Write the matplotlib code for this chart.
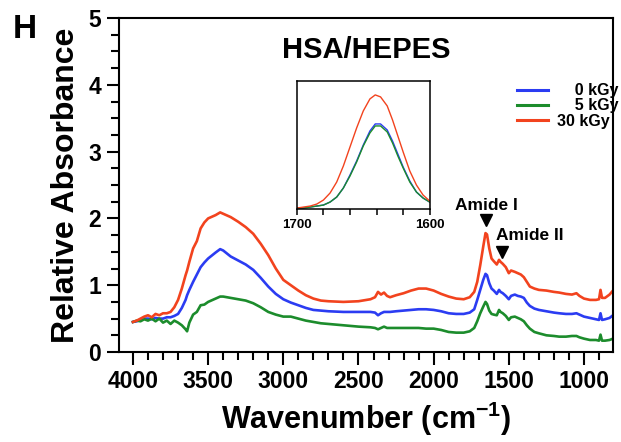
import matplotlib
matplotlib.use("Agg")
import matplotlib.pyplot as plt
from matplotlib.ticker import MultipleLocator, FixedLocator

plt.rcParams['font.family'] = ['Liberation Sans', 'DejaVu Sans']
plt.rcParams['mathtext.fontset'] = 'custom'
plt.rcParams['mathtext.rm'] = 'Liberation Sans:bold'
plt.rcParams['mathtext.default'] = 'rm'

# main spectra
wn = [4000, 3975, 3950, 3925, 3900, 3875, 3850, 3825, 3800, 3775, 3750, 3725, 3700, 3675, 3650, 3640, 3625, 3600,
      3575, 3550, 3525, 3500,
      3450, 3420, 3400, 3350, 3300, 3250, 3200, 3150, 3100, 3050, 3000,
      2950, 2900, 2850, 2800, 2750, 2700, 2600, 2500,
      2420, 2390, 2370, 2350, 2330, 2310, 2290,
      2250, 2200, 2150, 2100, 2050, 2000, 1950, 1900, 1850, 1800,
      1760, 1730, 1710, 1690, 1670, 1655, 1645, 1630, 1615, 1600,
      1580, 1565, 1555, 1540, 1520, 1500, 1485, 1460, 1440, 1420,
      1400, 1380, 1360, 1330, 1300, 1250, 1200, 1165, 1120, 1080,
      1050, 1030, 1000, 960, 920, 900, 890, 880, 860, 830, 807]

abs_0kgy = [0.45, 0.46, 0.48, 0.50, 0.50, 0.49, 0.51, 0.50, 0.50, 0.52, 0.52, 0.54, 0.57, 0.66, 0.78, 0.85, 0.93, 1.05,
            1.16, 1.27, 1.34, 1.40,
            1.49, 1.54, 1.52, 1.43, 1.37, 1.31, 1.23, 1.11, 0.98, 0.87, 0.79,
            0.74, 0.70, 0.66, 0.63, 0.62, 0.61, 0.60, 0.60,
            0.60, 0.59, 0.55, 0.58, 0.60, 0.60, 0.60,
            0.61, 0.62, 0.63, 0.64, 0.64, 0.63, 0.61, 0.58, 0.57, 0.57,
            0.59, 0.64, 0.78, 0.93, 1.08, 1.17, 1.15, 1.03, 0.95, 0.92,
            0.87, 0.93, 0.90, 0.88, 0.84, 0.79, 0.84, 0.86, 0.84, 0.83,
            0.81, 0.74, 0.69, 0.65, 0.63, 0.61, 0.59, 0.58, 0.57, 0.57,
            0.58, 0.56, 0.53, 0.51, 0.49, 0.48, 0.58, 0.48, 0.49, 0.51, 0.55]

abs_5kgy = [0.45, 0.47, 0.46, 0.49, 0.47, 0.50, 0.46, 0.50, 0.44, 0.47, 0.42, 0.47, 0.44, 0.40, 0.34, 0.31, 0.44, 0.56,
            0.60, 0.70, 0.71, 0.75,
            0.80, 0.83, 0.83, 0.81, 0.79, 0.77, 0.73, 0.67, 0.60, 0.56, 0.53,
            0.53, 0.50, 0.47, 0.45, 0.43, 0.42, 0.40, 0.38,
            0.37, 0.36, 0.34, 0.36, 0.38, 0.36, 0.36,
            0.36, 0.36, 0.36, 0.36, 0.35, 0.35, 0.33, 0.30, 0.29, 0.29,
            0.31, 0.36, 0.46, 0.58, 0.68, 0.75, 0.72, 0.62, 0.57, 0.56,
            0.55, 0.63, 0.60, 0.58, 0.54, 0.48, 0.52, 0.53, 0.51, 0.49,
            0.46, 0.40, 0.35, 0.30, 0.28, 0.25, 0.24, 0.23, 0.23, 0.24,
            0.24, 0.22, 0.20, 0.18, 0.18, 0.17, 0.26, 0.17, 0.17, 0.18, 0.20]

abs_30kgy = [0.45, 0.47, 0.50, 0.53, 0.55, 0.52, 0.57, 0.55, 0.58, 0.58, 0.60, 0.67, 0.78, 0.95, 1.15, 1.22, 1.35, 1.55,
             1.66, 1.85, 1.94, 2.00,
             2.05, 2.09, 2.07, 2.02, 1.95, 1.87, 1.77, 1.62, 1.45, 1.25, 1.08,
             1.00, 0.92, 0.85, 0.80, 0.77, 0.76, 0.75, 0.76,
             0.79, 0.82, 0.90, 0.86, 0.89, 0.84, 0.82,
             0.85, 0.88, 0.92, 0.95, 0.95, 0.92, 0.87, 0.83, 0.80, 0.79,
             0.82, 0.90, 1.05, 1.30, 1.58, 1.78, 1.76, 1.55, 1.40, 1.36,
             1.31, 1.38, 1.35, 1.32, 1.27, 1.18, 1.22, 1.20, 1.18, 1.16,
             1.12, 1.05, 0.98, 0.95, 0.93, 0.92, 0.90, 0.89, 0.87, 0.86,
             0.88, 0.84, 0.80, 0.78, 0.78, 0.79, 0.93, 0.81, 0.81, 0.86, 0.92]

# inset (amide I region)
wn_inset = [1700, 1695, 1690, 1685, 1680, 1675, 1670, 1665, 1660, 1655, 1650,
            1645, 1641, 1637, 1632, 1628, 1624, 1620, 1615, 1610, 1605, 1600]
ins_0kgy = [0.0, 0.0, 0.01, 0.02, 0.03, 0.06, 0.11, 0.20, 0.33, 0.47, 0.63,
            0.77, 0.84, 0.84, 0.78, 0.67, 0.54, 0.41, 0.27, 0.16, 0.10, 0.06]
ins_5kgy = [0.0, 0.0, 0.01, 0.02, 0.03, 0.06, 0.11, 0.20, 0.32, 0.46, 0.62,
            0.75, 0.82, 0.82, 0.76, 0.65, 0.52, 0.40, 0.26, 0.16, 0.10, 0.06]
ins_30kgy = [0.0, 0.01, 0.02, 0.04, 0.08, 0.15, 0.26, 0.42, 0.61, 0.80, 0.97,
             1.09, 1.13, 1.11, 1.02, 0.88, 0.72, 0.56, 0.37, 0.23, 0.13, 0.07]

labels = ['\u2007\u20070 kGy', '\u2007\u20075 kGy', '30 kGy']
colors = ['#2b3cf2', '#1c8c2c', '#f2431e']

fig = plt.figure(figsize=(6.21, 4.42), dpi=100)
ax = fig.add_axes([0.1916, 0.2036, 0.7955, 0.7556])

for y, c, lab in zip([abs_0kgy, abs_5kgy, abs_30kgy], colors, labels):
    ax.plot(wn, y, color=c, lw=1.9, label=lab)

ax.set_xlim(4093, 807)
ax.set_ylim(0, 5)
ax.xaxis.set_major_locator(FixedLocator([4000, 3500, 3000, 2500, 2000, 1500, 1000]))
ax.xaxis.set_minor_locator(MultipleLocator(100))
ax.yaxis.set_major_locator(MultipleLocator(1))
ax.yaxis.set_minor_locator(MultipleLocator(0.25))
ax.tick_params(which='major', direction='out', length=9, width=1.5, labelsize=16.5, pad=4)
ax.tick_params(which='minor', direction='out', length=6, width=1.5)
for t in ax.get_xticklabels() + ax.get_yticklabels():
    t.set_fontweight('bold')
for s in ax.spines.values():
    s.set_linewidth(1.5)

ax.set_xlabel('Wavenumber (cm$^{-1}$)', fontsize=22, fontweight='bold', labelpad=5)
ax.set_ylabel('Relative Absorbance', fontsize=23, fontweight='bold', labelpad=5)

ax.text(0.5, 0.905, 'HSA/HEPES', transform=ax.transAxes, ha='center', va='center',
        fontsize=21, fontweight='bold')
fig.text(0.02, 0.968, 'H', fontsize=24, fontweight='bold', va='top', ha='left')

# amide markers
ax.plot([1650], [1.98], marker='v', color='black', ms=9, ls='none')
ax.plot([1546], [1.50], marker='v', color='black', ms=9, ls='none')
ax.text(1650, 2.2, 'Amide I', ha='center', va='center', fontsize=12.5, fontweight='bold')
ax.text(1364, 1.74, 'Amide II', ha='center', va='center', fontsize=12.5, fontweight='bold')

leg = ax.legend(loc='upper right', bbox_to_anchor=(1.012, 0.805), frameon=False,
                prop=dict(weight='bold', size=11.5), handlelength=1.9, handletextpad=0.6,
                labelspacing=0.02, borderpad=0, borderaxespad=0)
for line in leg.get_lines():
    line.set_linewidth(2.2)

# inset
axi = fig.add_axes([0.478, 0.527, 0.214, 0.290])
for y, c in zip([ins_0kgy, ins_5kgy, ins_30kgy], colors):
    axi.plot(wn_inset, y, color=c, lw=1.0)
axi.set_xlim(1700, 1600)
axi.set_ylim(-0.01, 1.27)
axi.set_xticks([1700, 1680, 1660, 1640, 1620, 1600])
axi.set_xticklabels(['1700', '', '', '', '', '1600'])
axi.set_yticks([])
axi.tick_params(axis='x', direction='out', length=4, width=1.1, labelsize=9.5, pad=3)
for t in axi.get_xticklabels():
    t.set_fontweight('bold')
for s in axi.spines.values():
    s.set_linewidth(1.1)

fig.savefig('out.png', dpi=100)
